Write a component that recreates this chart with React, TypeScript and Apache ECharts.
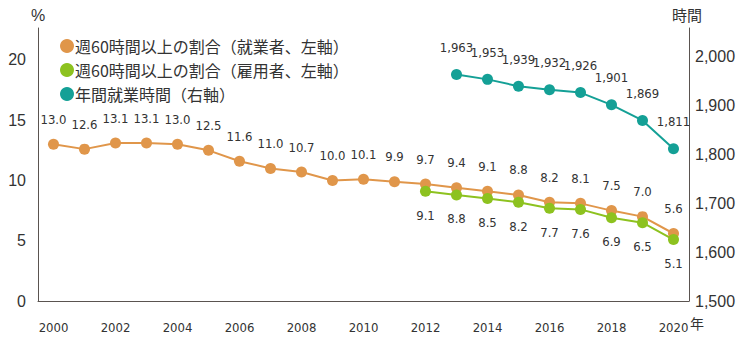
import React, { useEffect, useRef } from "react";
import * as echarts from "echarts";

const years = ["2000","2001","2002","2003","2004","2005","2006","2007","2008","2009","2010","2011","2012","2013","2014","2015","2016","2017","2018","2019","2020"];
const workersShare = [13.0,12.6,13.1,13.1,13.0,12.5,11.6,11.0,10.7,10.0,10.1,9.9,9.7,9.4,9.1,8.8,8.2,8.1,7.5,7.0,5.6];
const employeesShare = [null,null,null,null,null,null,null,null,null,null,null,null,9.1,8.8,8.5,8.2,7.7,7.6,6.9,6.5,5.1];
const annualHours = [null,null,null,null,null,null,null,null,null,null,null,null,null,1963,1953,1939,1932,1926,1901,1869,1811];
const leftTicks = [0, 5, 10, 15, 20];
const rightTicks = [1500, 1600, 1700, 1800, 1900, 2000];
const seriesNames = ["週60時間以上の割合（就業者、左軸）", "週60時間以上の割合（雇用者、左軸）", "年間就業時間（右軸）"];

const ORANGE = "#E0964A";
const GREEN = "#8DC21F";
const TEAL = "#14A096";
const TEXT = "#333333";
const AXIS = "#5a5450";
const NUM_FONT = "'DejaVu Sans Condensed', 'Roboto Condensed', Roboto";

export default function App() {
  const ref = useRef<HTMLDivElement>(null);
  useEffect(() => {
    if (!ref.current) return;
    const chart = echarts.init(ref.current, null, { renderer: "svg" });
    const labelBase = { show: true, color: TEXT, fontFamily: NUM_FONT, fontSize: 13 };
    chart.setOption({
      animation: false,
      backgroundColor: "#ffffff",
      textStyle: { fontFamily: "Noto Sans CJK JP" },
      grid: { left: 38, right: 61, top: 28, bottom: 51, containLabel: false },
      legend: {
        data: seriesNames,
        orient: "vertical",
        left: 55,
        top: 33,
        icon: "circle",
        itemWidth: 14,
        itemHeight: 14,
        itemGap: 8,
        textStyle: { color: TEXT, fontSize: 16, fontFamily: "Noto Sans CJK JP", padding: [0, 0, 0, -4] },
      },
      xAxis: {
        type: "category",
        data: years,
        boundaryGap: true,
        axisLine: { show: true, lineStyle: { color: AXIS, width: 1 } },
        axisTick: { show: false },
        axisLabel: {
          interval: 1,
          color: TEXT,
          fontFamily: NUM_FONT,
          fontSize: 13,
          margin: 20,
        },
      },
      yAxis: [
        {
          type: "value",
          min: 0,
          max: 22.65,
          interval: 5,
          splitLine: { show: false },
          axisLine: { show: true, lineStyle: { color: AXIS, width: 1 } },
          axisTick: { show: false },
          axisLabel: {
            color: TEXT,
            fontFamily: "Liberation Sans",
            fontSize: 16,
            margin: 12,
            formatter: (v: number) => (leftTicks.includes(v) ? String(v) : ""),
          },
        },
        {
          type: "value",
          min: 1500,
          max: 2058,
          interval: 100,
          splitLine: { show: false },
          axisLine: { show: true, lineStyle: { color: AXIS, width: 1 } },
          axisTick: { show: false },
          axisLabel: {
            color: TEXT,
            fontFamily: "Liberation Sans",
            fontSize: 16,
            margin: 6,
            formatter: (v: number) => (rightTicks.includes(v) ? v.toLocaleString("en-US") : ""),
          },
        },
      ],
      graphic: [
        { type: "text", left: 31, top: 7, style: { text: "%", fill: TEXT, fontSize: 16, fontFamily: "Liberation Sans" } },
        { type: "text", left: 672, top: 7, style: { text: "時間", fill: TEXT, fontSize: 15, fontFamily: "Noto Sans CJK JP" } },
        { type: "text", left: 690, top: 316, style: { text: "年", fill: TEXT, fontSize: 14, fontFamily: "Noto Sans CJK JP" } },
      ],
      series: [
        {
          name: seriesNames[0],
          type: "line",
          yAxisIndex: 0,
          data: workersShare,
          symbol: "circle",
          symbolSize: 11,
          lineStyle: { color: ORANGE, width: 2 },
          itemStyle: { color: ORANGE },
          label: { ...labelBase, position: "top", distance: 13, formatter: (p: any) => Number(p.value).toFixed(1) },
        },
        {
          name: seriesNames[1],
          type: "line",
          yAxisIndex: 0,
          data: employeesShare,
          symbol: "circle",
          symbolSize: 11,
          lineStyle: { color: GREEN, width: 2 },
          itemStyle: { color: GREEN },
          label: { ...labelBase, position: "bottom", distance: 12, formatter: (p: any) => Number(p.value).toFixed(1) },
        },
        {
          name: seriesNames[2],
          type: "line",
          yAxisIndex: 1,
          data: annualHours,
          symbol: "circle",
          symbolSize: 11,
          lineStyle: { color: TEAL, width: 2 },
          itemStyle: { color: TEAL },
          label: { ...labelBase, position: "top", distance: 15, formatter: (p: any) => Number(p.value).toLocaleString("en-US") },
        },
      ],
    });
    return () => chart.dispose();
  }, []);
  return <div ref={ref} style={{ width: 750, height: 352, position: "absolute", left: 0, top: 0 }} />;
}
